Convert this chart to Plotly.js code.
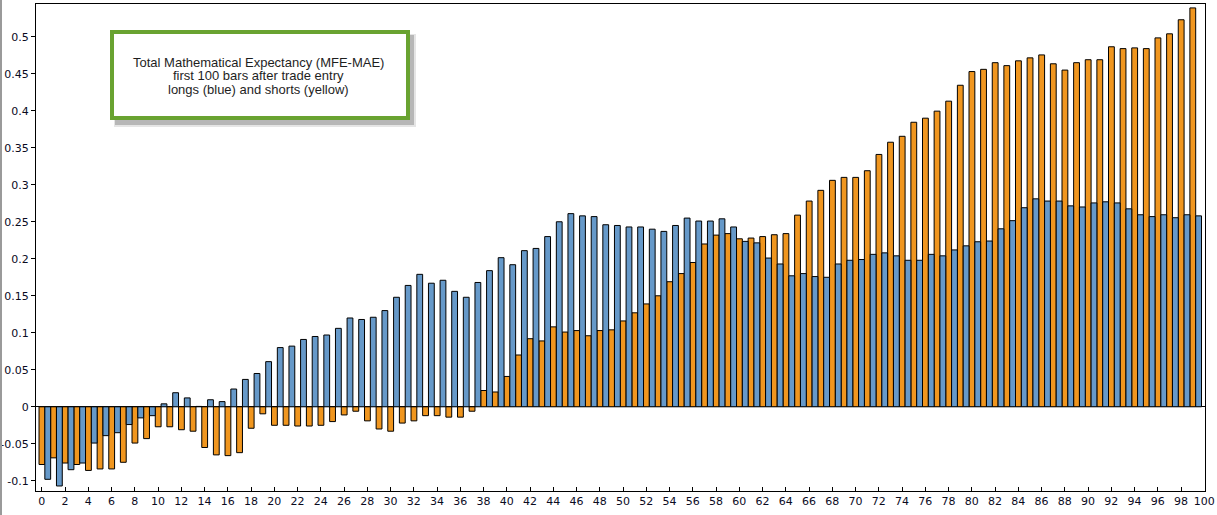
<!DOCTYPE html>
<html>
<head>
<meta charset="utf-8">
<script src="https://cdn.plot.ly/plotly-3.0.1.min.js"></script>
<style>
html,body{margin:0;padding:0;background:#fff;}
#chart{width:1217px;height:515px;}
</style>
</head>
<body>
<div id="chart"></div>
<script>
// bar index after trade entry
const bars = Array.from({length: 100}, (_, i) => i);

// shorts (yellow/orange)
const shorts = [
 -0.078,-0.069,-0.076,-0.078,-0.086,-0.084,-0.084,-0.075,-0.049,-0.043,
 -0.027,-0.027,-0.031,-0.033,-0.055,-0.065,-0.066,-0.062,-0.029,-0.0095,
 -0.025,-0.025,-0.026,-0.026,-0.025,-0.020,-0.011,-0.006,-0.019,-0.030,
 -0.033,-0.022,-0.019,-0.012,-0.012,-0.014,-0.014,-0.006,0.022,0.020,
 0.041,0.070,0.092,0.089,0.108,0.101,0.103,0.096,0.103,0.104,
 0.116,0.127,0.139,0.150,0.169,0.180,0.195,0.220,0.232,0.234,
 0.227,0.228,0.230,0.2325,0.234,0.259,0.278,0.2925,0.306,0.310,
 0.310,0.319,0.341,0.3575,0.3655,0.3845,0.390,0.3995,0.413,0.4345,
 0.453,0.456,0.465,0.461,0.4675,0.4715,0.4755,0.4635,0.455,0.465,
 0.469,0.469,0.4865,0.484,0.485,0.484,0.4985,0.504,0.523,0.539
];

// longs (blue)
const longs = [
 -0.098,-0.107,-0.085,-0.076,-0.049,-0.039,-0.035,-0.024,-0.015,-0.012,
 0.004,0.019,0.012,0.0005,0.0095,0.007,0.024,0.037,0.045,0.061,
 0.080,0.082,0.091,0.095,0.097,0.106,0.120,0.118,0.121,0.130,
 0.148,0.164,0.179,0.167,0.171,0.156,0.148,0.168,0.184,0.2015,
 0.192,0.211,0.214,0.230,0.250,0.261,0.258,0.257,0.246,0.245,
 0.243,0.243,0.240,0.237,0.245,0.255,0.251,0.251,0.254,0.243,
 0.2235,0.2215,0.201,0.193,0.177,0.180,0.176,0.175,0.193,0.198,
 0.199,0.206,0.208,0.204,0.198,0.198,0.206,0.204,0.212,0.2175,
 0.223,0.224,0.2405,0.2515,0.269,0.281,0.278,0.278,0.2715,0.270,
 0.2755,0.277,0.2755,0.2675,0.2595,0.257,0.2595,0.2555,0.2595,0.258
];

const yTickVals = [-0.1,-0.05,0,0.05,0.1,0.15,0.2,0.25,0.3,0.35,0.4,0.45,0.5];
const yTickText = ["-0.1","-0.05","0","0.05","0.1","0.15","0.2","0.25","0.3","0.35","0.4","0.45","0.5"];

const noteLines = [
  "Total Mathematical Expectancy (MFE-MAE)",
  "first 100 bars after trade entry",
  "longs (blue) and shorts (yellow)"
];

// pixel -> paper helpers (plot area: x 36..1205, y 4..491)
const L = 36, T = 4, PW = 1169, PH = 487;
const px = v => (v - L) / PW;
const py = v => (T + PH - v) / PH;

const traces = [
  {
    type: 'bar', x: bars, y: shorts, name: 'shorts',
    width: 0.5, offset: -0.24,
    marker: {color: '#F0961F', line: {color: '#000', width: 1}},
    hoverinfo: 'x+y'
  },
  {
    type: 'bar', x: bars, y: longs, name: 'longs',
    width: 0.5, offset: 0.26,
    marker: {color: '#6699C9', line: {color: '#000', width: 1}},
    hoverinfo: 'x+y'
  }
];

const shapes = [
  // window border on the left
  {type:'rect', xref:'paper', yref:'paper', x0:px(0), x1:px(2), y0:py(515), y1:py(0),
   line:{width:0}, fillcolor:'#9a9a9a', layer:'above'},
  // soft shadow
  {type:'rect', xref:'paper', yref:'paper', x0:px(114), x1:px(416), y0:py(127), y1:py(34),
   line:{width:0}, fillcolor:'rgba(0,0,0,0.10)', layer:'above'},
  {type:'rect', xref:'paper', yref:'paper', x0:px(115), x1:px(414), y0:py(125), y1:py(35),
   line:{width:0}, fillcolor:'rgba(0,0,0,0.2)', layer:'above'},
  // note box
  {type:'rect', xref:'paper', yref:'paper', x0:px(112), x1:px(408), y0:py(118), y1:py(32),
   line:{color:'#69A331', width:4}, fillcolor:'#ffffff', layer:'above'}
];

const lineY = [62.5, 76, 90];
const annotations = noteLines.map((t, k) => ({
  xref:'paper', yref:'paper', x:px(258), y:py(lineY[k]),
  xanchor:'center', yanchor:'middle', showarrow:false, text:t,
  font:{family:'Liberation Sans, Arial, sans-serif', size:13, color:'#1e1e1e'}
}));

const layout = {
  width: 1217, height: 515,
  margin: {l: L, r: 12, t: T, b: 24, pad: 0},
  paper_bgcolor: '#ffffff', plot_bgcolor: '#ffffff',
  showlegend: false,
  barmode: 'overlay',
  font: {family: 'DejaVu Sans, sans-serif', size: 11, color: '#000'},
  xaxis: {
    range: [-0.5, 100.06], tickmode: 'linear', tick0: 0, dtick: 2,
    showgrid: false, zeroline: false,
    showline: true, linecolor: '#000', linewidth: 1, mirror: true,
    ticks: 'inside', ticklen: 4, tickcolor: '#000',
    tickfont: {family: 'DejaVu Sans, sans-serif', size: 11, color: '#0a0a1e'}
  },
  yaxis: {
    range: [-0.1138, 0.5443], tickmode: 'array', tickvals: yTickVals, ticktext: yTickText,
    showgrid: false, zeroline: true, zerolinecolor: '#000', zerolinewidth: 1,
    showline: true, linecolor: '#000', linewidth: 1, mirror: true,
    ticks: 'outside', ticklen: 4, tickcolor: '#000',
    tickfont: {family: 'DejaVu Sans, sans-serif', size: 11, color: '#0a0a1e'}
  },
  shapes: shapes,
  annotations: annotations
};

Plotly.newPlot('chart', traces, layout, {displayModeBar: false, staticPlot: true});
</script>
</body>
</html>
